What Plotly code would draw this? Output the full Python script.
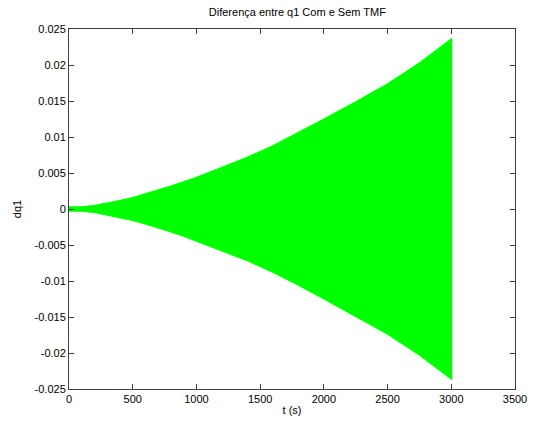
import plotly.graph_objects as go

# Envelope of the dense oscillation
t_env = [0, 100, 200, 300, 400, 500, 600, 700, 800, 900, 1000, 1200, 1400,
         1600, 1800, 2000, 2250, 2500, 2750, 3005]
upper = [0.0003, 0.0003, 0.0005, 0.0008, 0.0012, 0.0016, 0.0021, 0.0026,
         0.0032, 0.0038, 0.0044, 0.0058, 0.0072, 0.0088, 0.0106, 0.0125,
         0.0149, 0.0174, 0.0203, 0.0237]
lower = [-0.0003, -0.0003, -0.0005, -0.0008, -0.0012, -0.0016, -0.0021,
         -0.0026, -0.0032, -0.0038, -0.0044, -0.0058, -0.0072, -0.0088,
         -0.0106, -0.0125, -0.0149, -0.0174, -0.0203, -0.0237]

x_ticks = [0, 500, 1000, 1500, 2000, 2500, 3000, 3500]
y_ticks = [-0.025, -0.02, -0.015, -0.01, -0.005, 0, 0.005, 0.01, 0.015, 0.02, 0.025]
y_labels = ["-0.025", "-0.02", "-0.015", "-0.01", "-0.005", "0", "0.005",
            "0.01", "0.015", "0.02", "0.025"]

xs = t_env + t_env[::-1]
ys = upper + lower[::-1]

fig = go.Figure()
fig.add_trace(go.Scatter(x=xs, y=ys, mode="lines", fill="toself",
                         fillcolor="#00ff00", line=dict(color="#00ff00", width=1),
                         hoverinfo="skip", showlegend=False))

font = dict(family="Liberation Sans, Arial, sans-serif", size=11, color="#000")
axis_common = dict(showgrid=False, zeroline=False, showline=True, mirror="ticks",
                   linecolor="#404040", linewidth=1, ticks="inside", ticklen=5,
                   tickcolor="#404040", tickfont=font)

fig.update_layout(
    width=539, height=430,
    margin=dict(l=69, r=14, t=29, b=41),
    paper_bgcolor="white", plot_bgcolor="white",
    font=font,
    title=dict(text="Diferença entre q1 Com e Sem TMF", x=0.5517, xanchor="center",
               y=0.972, yanchor="middle", font=dict(size=11, family=font["family"])),
    xaxis=dict(range=[0, 3500], tickvals=x_ticks,
               title=dict(text="t (s)", standoff=2, font=font), **axis_common),
    yaxis=dict(range=[-0.025, 0.025], tickvals=y_ticks, ticktext=y_labels,
               title=dict(text="dq1", standoff=10, font=font), **axis_common),
)

fig.write_html("out.html")
